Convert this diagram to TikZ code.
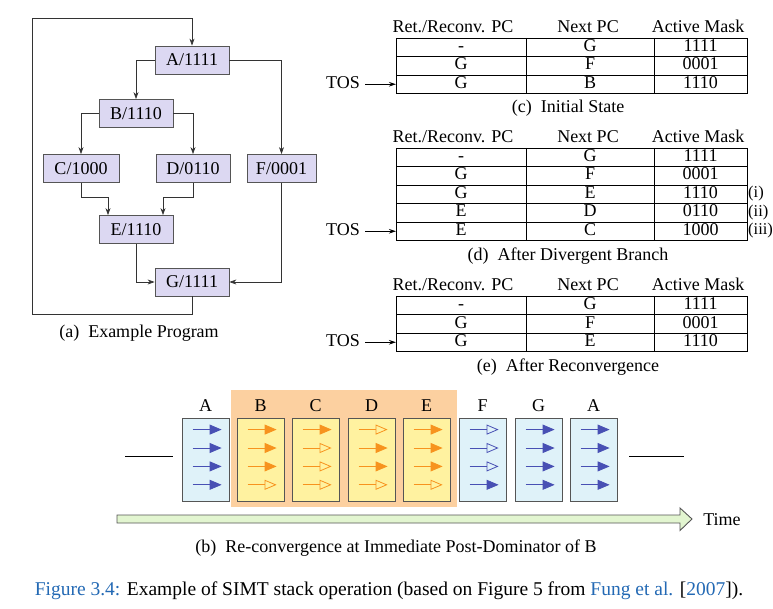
\documentclass[tikz,border=0pt]{standalone}
\usepackage{fontspec}
\setmainfont{Liberation Serif}
\usetikzlibrary{arrows.meta,calc}
\definecolor{lav}{RGB}{220,216,242}
\definecolor{boxgray}{RGB}{85,85,85}
\definecolor{peach}{RGB}{252,208,160}
\definecolor{slotyel}{RGB}{255,242,160}
\definecolor{slotblue}{RGB}{223,242,249}
\definecolor{arrblue}{RGB}{72,80,180}
\definecolor{arrorange}{RGB}{247,147,30}
\definecolor{timegreen}{RGB}{226,245,208}
\definecolor{capblue}{RGB}{35,105,180}

\newcommand\stackhead[2]{%
  \node[txt] (#1-h1) at (453,#2-10) {Ret./Reconv. PC};
  \node[txt] (#1-h2) at (588,#2-10) {Next PC};
  \node[txt] (#1-h3) at (698,#2-10) {Active Mask};
}
\newcommand\stackrow[6]{%
  \node[txt] (#1-r#3a) at (461,{#2+(#3-0.5)*18.5}) {#4};
  \node[txt] (#1-r#3b) at (590,{#2+(#3-0.5)*18.5}) {#5};
  \node[txt] (#1-r#3c) at (700.5,{#2+(#3-0.5)*18.5}) {#6};
}
\newcommand\stackgrid[3]{%
  \draw[tbl] (396,#2) rectangle (747,{#2+#3*18.5});
  \foreach \k in {1,...,#3}{\ifnum\k<#3\relax\draw[tbl] (396,{#2+\k*18.5}) -- (747,{#2+\k*18.5});\fi}
  \draw[tbl] (526,#2) -- (526,{#2+#3*18.5});
  \draw[tbl] (654,#2) -- (654,{#2+#3*18.5});
  \node[txt] (#1-tos) at (343,{#2+(#3-0.5)*18.5}) {TOS};
  \coordinate (#1-tosend) at (396,{#2+(#3-0.5)*18.5});
  \draw[tosarr] (#1-tos.east) -- (#1-tosend);
}

\begin{document}
\begin{tikzpicture}[x=1pt,y=-1pt,font=\fontsize{18}{21}\selectfont,
  blk/.style={draw=boxgray,fill=lav,line width=0.8pt,minimum height=28pt,minimum width=74pt,inner sep=0pt},
  arr/.style={-{Stealth[length=7pt,width=5pt]},line width=0.7pt,draw=black!80},
  tosarr/.style={-{Stealth[length=7pt,width=4.5pt]},line width=0.7pt,draw=black,shorten <=3pt},
  tbl/.style={line width=0.7pt,draw=black},
  txt/.style={inner sep=2pt,text height=12pt,text depth=3.5pt},
  slot/.style={draw=boxgray,line width=0.8pt,minimum width=47pt,minimum height=83pt,inner sep=0pt},
  slotlab/.style={inner sep=0pt}]
\useasboundingbox (0,0) rectangle (773,609);

% ---------- (a) Example program ----------
\node[blk] (A) at (192,60) {A/1111};
\node[blk] (B) at (136,113.5) {B/1110};
\node[blk,minimum width=76pt] (C) at (81,168.5) {C/1000};
\node[blk] (D) at (193,168.5) {D/0110};
\node[blk,minimum width=69pt] (F) at (281.5,168.5) {F/0001};
\node[blk] (E) at (136,229.5) {E/1110};
\node[blk] (G) at (192,282) {G/1111};
\draw[arr] (A.west) -| (B.north);
\draw[arr] (A.east) -| (F.north);
\draw[arr] (B.west) -| (C.north);
\draw[arr] (B.east) -| (D.north);
\draw[arr] (C.south) -- ++(0,14) -| ([xshift=-28pt]E.north);
\draw[arr] (D.south) -- ++(0,14) -| ([xshift=27pt]E.north);
\draw[arr] (E.south) |- (G.west);
\draw[arr] (F.south) |- (G.east);
\coordinate (lb) at (32,314);
\coordinate (lt) at (32,18);
\draw[arr] (G.south) |- (lb) -- (lt) -| (A.north);
\node (capa) at (139,333) {(a)\hspace{0.5em}Example Program};

% ---------- (c) ----------
\stackhead{c}{38}
\stackgrid{c}{38}{3}
\stackrow{c}{38}{1}{-}{G}{1111}
\stackrow{c}{38}{2}{G}{F}{0001}
\stackrow{c}{38}{3}{G}{B}{1110}
\node (capc) at (568,108) {(c)\hspace{0.5em}Initial State};

% ---------- (d) ----------
\stackhead{d}{148}
\stackgrid{d}{148}{5}
\stackrow{d}{148}{1}{-}{G}{1111}
\stackrow{d}{148}{2}{G}{F}{0001}
\stackrow{d}{148}{3}{G}{E}{1110}
\stackrow{d}{148}{4}{E}{D}{0110}
\stackrow{d}{148}{5}{E}{C}{1000}
\begin{scope}[every node/.style={font=\fontsize{16.5}{19}\selectfont,inner sep=0pt,text height=11pt,text depth=3.5pt,anchor=west}]
\node (d-i) at (748,{148+2.5*18.5}) {(i)};
\node (d-ii) at (748,{148+3.5*18.5}) {(ii)};
\node (d-iii) at (748,{148+4.5*18.5}) {(iii)};
\end{scope}
\node (capd) at (568,256) {(d)\hspace{0.5em}After Divergent Branch};

% ---------- (e) ----------
\stackhead{e}{296}
\stackgrid{e}{296}{3}
\stackrow{e}{296}{1}{-}{G}{1111}
\stackrow{e}{296}{2}{G}{F}{0001}
\stackrow{e}{296}{3}{G}{E}{1110}
\node (cape) at (568,367) {(e)\hspace{0.5em}After Reconvergence};

% ---------- (b) timeline ----------
\fill[peach] (231,390) rectangle (457,507);
\foreach \i/\x/\lab/\fillc/\ac/\pat in {
  1/205.5/A/slotblue/arrblue/{1,1,1,1},
  2/260.5/B/slotyel/arrorange/{1,1,1,0},
  3/315.5/C/slotyel/arrorange/{1,0,0,0},
  4/371.5/D/slotyel/arrorange/{0,1,1,0},
  5/426.5/E/slotyel/arrorange/{1,1,1,0},
  6/482.5/F/slotblue/arrblue/{0,0,0,1},
  7/538.5/G/slotblue/arrblue/{1,1,1,1},
  8/593.5/A/slotblue/arrblue/{1,1,1,1}}{
  \node[slot,fill=\fillc] (s\i) at (\x,459.5) {};
  \node[slotlab] (l\i) at (\x,406) {\lab};
  \foreach \p [count=\r] in \pat {
    \pgfmathsetmacro\dy{-12-(\r-1)*18.4}
    \ifnum\p=1\relax
      \draw[draw=\ac,line width=0.8pt,-{Triangle[length=12pt,width=10pt,fill=\ac]}]
        ([xshift=11pt,yshift=\dy pt]s\i.north west) -- ([xshift=40pt,yshift=\dy pt]s\i.north west);
    \else
      \draw[draw=\ac,line width=0.8pt,-{Triangle[open,length=12pt,width=10pt]}]
        ([xshift=11pt,yshift=\dy pt]s\i.north west) -- ([xshift=40pt,yshift=\dy pt]s\i.north west);
    \fi
  }
}
\coordinate (ll1) at (125,456);
\coordinate (ll2) at (173,456);
\coordinate (rl1) at (629,456);
\coordinate (rl2) at (684,456);
\draw[line width=0.7pt] (ll1) -- (ll2);
\draw[line width=0.7pt] (rl1) -- (rl2);
\draw[draw=boxgray,fill=timegreen,line width=0.9pt,line join=miter]
  (117,515) -- (680,515) -- (680,508) -- (692,519) -- (680,530.5) -- (680,523) -- (117,523) -- cycle;
\node (time) at (722,520) {Time};
\node (capb) at (396,548) {(b)\hspace{0.5em}Re-convergence at Immediate Post-Dominator of B};

% ---------- figure caption ----------
\node[font=\fontsize{19.5}{23}\selectfont] (figcap) at (389,591) {\textcolor{capblue}{Figure 3.4:} Example of SIMT stack operation (based on Figure 5 from \textcolor{capblue}{Fung et al.} [\textcolor{capblue}{2007}]).};
\end{tikzpicture}
\end{document}
